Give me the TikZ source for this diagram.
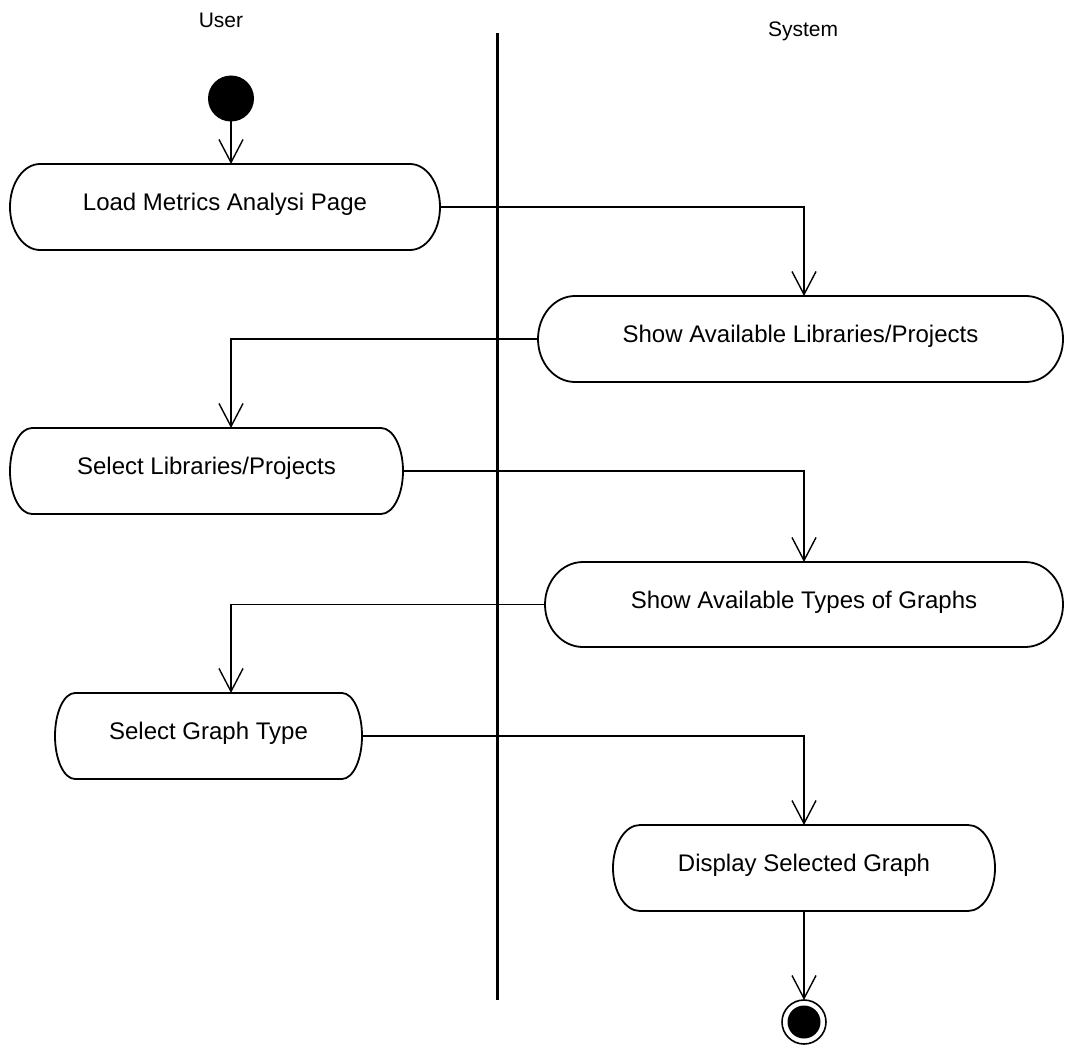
\documentclass[tikz,border=0pt]{standalone}
\usepackage{fontspec}
\setmainfont{Liberation Sans}
\usetikzlibrary{arrows.meta}

\tikzset{
  every node/.style={inner sep=0pt, outer sep=0pt},
  frame/.style={rectangle, minimum width=#1},
  boxline/.style={line width=1.8pt},
  flow/.style={line width=1.4pt, -{Straight Barb[length=23pt,width=24pt,line width=1.4pt]}},
  txt/.style={anchor=base, font=\fontsize{24pt}{28pt}\selectfont},
  lane/.style={font=\fontsize{21pt}{25pt}\selectfont},
}

% stadium outline around a named frame: #1 = node, #2 = end radius x, #3 = half height
\newcommand\stadium[3]{%
  \draw[boxline] ([xshift=#2]#1.north west) -- ([xshift=-#2]#1.north east)
    arc[start angle=90, end angle=-90, x radius=#2, y radius=#3]
    -- ([xshift=#2]#1.south west)
    arc[start angle=270, end angle=90, x radius=#2, y radius=#3] -- cycle;}

\begin{document}
\begin{tikzpicture}[x=1pt, y=-1pt]
  \useasboundingbox (0,0) rectangle (1065,1046);

  % swimlane headers and divider
  \node[lane] (user) at (221,20) {User};
  \node[lane] (system) at (803,31) {System};
  \coordinate (divtop) at (497,33);
  \coordinate (divbot) at (497,1000);
  \draw[line width=3pt] (divtop) -- (divbot);

  % lane columns for the vertical legs
  \coordinate (ulane) at (231,0);
  \coordinate (slane) at (804,0);

  % start node
  \node[circle, fill=black, minimum size=46pt] (start) at (231,98.5) {};

  % activity frames
  \node[frame=430pt, minimum height=86pt] (n1) at (225,207) {};
  \node[frame=525pt, minimum height=86pt] (n2) at (800.5,339) {};
  \node[frame=393pt, minimum height=86pt] (n3) at (206.5,471) {};
  \node[frame=518pt, minimum height=85pt] (n4) at (804,604.5) {};
  \node[frame=307pt, minimum height=86pt] (n5) at (208.5,736) {};
  \node[frame=382pt, minimum height=86pt] (n6) at (804,868) {};

  \stadium{n1}{30pt}{43pt}
  \stadium{n2}{37pt}{43pt}
  \stadium{n3}{22pt}{43pt}
  \stadium{n4}{38pt}{42.5pt}
  \stadium{n5}{20pt}{43pt}
  \stadium{n6}{27pt}{43pt}

  \node[txt] (t1) at ([yshift=-46pt]n1.north) {Load Metrics Analysi Page};
  \node[txt] (t2) at ([yshift=-46pt]n2.north) {Show Available Libraries/Projects};
  \node[txt] (t3) at ([yshift=-46pt]n3.north) {Select Libraries/Projects};
  \node[txt] (t4) at ([yshift=-46pt]n4.north) {Show Available Types of Graphs};
  \node[txt] (t5) at ([yshift=-46pt]n5.north) {Select Graph Type};
  \node[txt] (t6) at ([yshift=-46pt]n6.north) {Display Selected Graph};

  % final node
  \node[circle, draw, line width=1.6pt, minimum size=44pt] (end) at (804,1022) {};
  \node[circle, fill=black, minimum size=33pt] (endcore) at (end) {};

  % control flow
  \draw[flow] (start.south) -- (n1.north -| ulane);
  \draw[flow] (n1.east) -| (n2.north -| slane);
  \draw[flow] (n2.west) -| (n3.north -| ulane);
  \draw[flow] (n3.east) -| (n4.north -| slane);
  \draw[flow] (n4.west) -| (n5.north -| ulane);
  \draw[flow] (n5.east) -| (n6.north -| slane);
  \draw[flow] (n6.south) -- (end.north);
\end{tikzpicture}
\end{document}
